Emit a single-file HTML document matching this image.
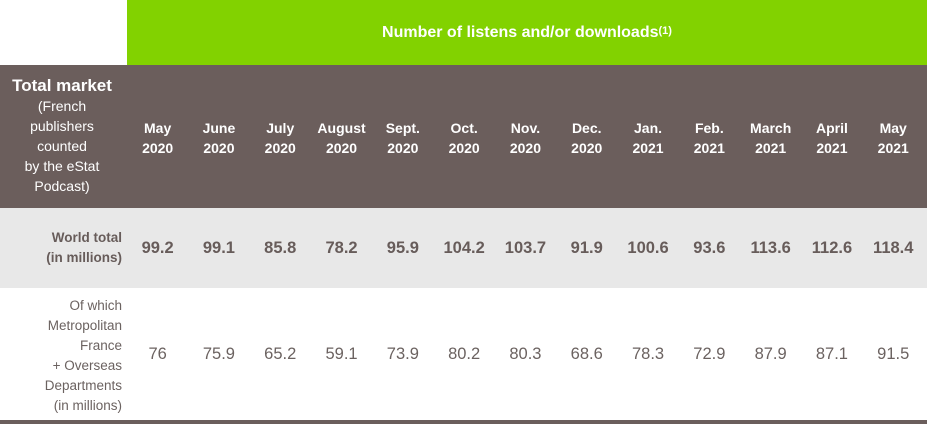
<!DOCTYPE html>
<html><head><meta charset="utf-8"><style>
body{margin:0;width:927px;height:425px;background:#fff;font-family:"Liberation Sans",sans-serif;position:relative;overflow:hidden}
div{position:absolute;box-sizing:border-box}
.c{display:flex;align-items:center;justify-content:center;text-align:center}
</style></head><body>
<div class="c" style="left:127px;top:0;width:800px;height:65px;background:#82d200;color:#fff;font-weight:bold;font-size:16px">Number of listens and/or downloads<sup style="font-size:11px;position:relative;top:-2px">(1)</sup></div>
<div style="left:0;top:65px;width:927px;height:143px;background:#6b5e5c"></div>
<div style="left:0;top:76px;width:124px;text-align:center;color:#fff;font-size:14px;line-height:20px"><b style="font-size:17px">Total market</b><br>(French<br>publishers<br>counted<br>by the eStat<br>Podcast)</div>
<div style="left:0;top:208px;width:927px;height:80px;background:#e8e8e8"></div>
<div style="left:0;top:228px;width:122px;text-align:right;color:#675c5a;font-weight:bold;font-size:13.5px;line-height:20px">World total<br>(in millions)</div>
<div style="left:0;top:296px;width:122px;text-align:right;color:#6b6260;font-size:13.5px;line-height:20px">Of which<br>Metropolitan<br>France<br>+ Overseas<br>Departments<br>(in millions)</div>
<div style="left:0;top:420px;width:927px;height:4px;background:#6b5e5c"></div>
<script>
const months=["May<br>2020","June<br>2020","July<br>2020","August<br>2020","Sept.<br>2020","Oct.<br>2020","Nov.<br>2020","Dec.<br>2020","Jan.<br>2021","Feb.<br>2021","March<br>2021","April<br>2021","May<br>2021"];
const world=["99.2","99.1","85.8","78.2","95.9","104.2","103.7","91.9","100.6","93.6","113.6","112.6","118.4"];
const metro=["76","75.9","65.2","59.1","73.9","80.2","80.3","68.6","78.3","72.9","87.9","87.1","91.5"];
const x0=127,w=61.3;
months.forEach((m,i)=>{
  const x=x0+i*w;
  const a=document.createElement('div');
  
  
  a.className='c';a.style.cssText=`left:${x}px;top:110px;width:${w}px;height:56px;color:#fff;font-weight:bold;font-size:14px;line-height:20px`;
  a.innerHTML=m;document.body.appendChild(a);
  const b=document.createElement('div');
  
  
  b.className='c';b.style.cssText=`left:${x}px;top:208px;width:${w}px;height:80px;color:#675c5a;font-weight:bold;font-size:16.5px`;
  b.textContent=world[i];document.body.appendChild(b);
  const c=document.createElement('div');
  
  
  c.className='c';c.style.cssText=`left:${x}px;top:288px;width:${w}px;height:132px;color:#6b6260;font-size:16.5px`;
  c.textContent=metro[i];document.body.appendChild(c);
});
</script>
</body></html>
